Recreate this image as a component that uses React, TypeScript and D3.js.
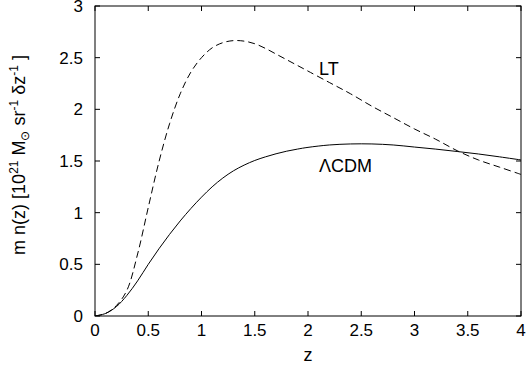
import React from "react";
import * as d3 from "d3";

const zGrid = [0, 0.1, 0.2, 0.3, 0.4, 0.5, 0.6, 0.7, 0.8, 0.9, 1.0, 1.1, 1.2, 1.3, 1.4, 1.5, 1.6, 1.7, 1.8, 1.9, 2.0, 2.2, 2.4, 2.6, 2.8, 3.0, 3.2, 3.4, 3.6, 3.8, 4.0];
const ltValues = [0, 0.025, 0.1, 0.25, 0.6, 1.05, 1.49, 1.86, 2.15, 2.36, 2.5, 2.595, 2.645, 2.665, 2.66, 2.635, 2.59, 2.535, 2.48, 2.425, 2.37, 2.26, 2.15, 2.03, 1.92, 1.81, 1.71, 1.6, 1.51, 1.44, 1.37];
const lcdmValues = [0, 0.025, 0.09, 0.2, 0.34, 0.5, 0.65, 0.79, 0.92, 1.04, 1.15, 1.25, 1.335, 1.405, 1.46, 1.505, 1.54, 1.57, 1.595, 1.615, 1.632, 1.655, 1.665, 1.665, 1.655, 1.635, 1.615, 1.592, 1.568, 1.54, 1.51];
const xTicks = [0, 0.5, 1, 1.5, 2, 2.5, 3, 3.5, 4];
const yTicks = [0, 0.5, 1, 1.5, 2, 2.5, 3];

const FONT = "'Liberation Sans', Arial, Helvetica, sans-serif";

export default function App() {
  const W = 530, H = 372;
  const L = 95, R = 521, T = 6, B = 316;
  const x = d3.scaleLinear().domain([0, 4]).range([L, R]);
  const y = d3.scaleLinear().domain([0, 3]).range([B, T]);
  const line = d3
    .line<[number, number]>()
    .x((d) => x(d[0]))
    .y((d) => y(d[1]))
    .curve(d3.curveCatmullRom.alpha(0.5));
  const ltPath = line(zGrid.map((z, i) => [z, ltValues[i]]) as [number, number][]) || "";
  const lcdmPath = line(zGrid.map((z, i) => [z, lcdmValues[i]]) as [number, number][]) || "";
  const tl = 5;
  return (
    <svg width={W} height={H} style={{ position: "absolute", left: 0, top: 0 }} fontFamily={FONT}>
      <rect x={0} y={0} width={W} height={H} fill="#fff" />
      <defs>
        <clipPath id="plotclip">
          <rect x={L} y={T} width={R - L} height={B - T} />
        </clipPath>
      </defs>
      {xTicks.map((t) => (
        <g key={"x" + t}>
          <line x1={x(t)} x2={x(t)} y1={B} y2={B - tl} stroke="#000" strokeWidth={1} />
          <line x1={x(t)} x2={x(t)} y1={T} y2={T + tl} stroke="#000" strokeWidth={1} />
          <text x={x(t)} y={336} fontSize={17} textAnchor="middle" fill="#000">
            {String(t)}
          </text>
        </g>
      ))}
      {yTicks.map((t) => (
        <g key={"y" + t}>
          <line x1={L} x2={L + tl} y1={y(t)} y2={y(t)} stroke="#000" strokeWidth={1} />
          <line x1={R} x2={R - tl} y1={y(t)} y2={y(t)} stroke="#000" strokeWidth={1} />
          <text x={83} y={y(t) + 6} fontSize={17} textAnchor="end" fill="#000">
            {String(t)}
          </text>
        </g>
      ))}
      <g clipPath="url(#plotclip)">
        <path d={ltPath} fill="none" stroke="#000" strokeWidth={1} strokeDasharray="7,4" />
        <path d={lcdmPath} fill="none" stroke="#000" strokeWidth={1} />
      </g>
      <rect x={L} y={T} width={R - L} height={B - T} fill="none" stroke="#000" strokeWidth={1} />
      <text x={319} y={75} fontSize={18} fill="#000">LT</text>
      <text x={319} y={172} fontSize={18} fill="#000">ΛCDM</text>
      <text x={x(2)} y={361} fontSize={18} textAnchor="middle" fill="#000">z</text>
      <text transform="translate(25,155) rotate(-90)" fontSize={18} textAnchor="middle" fill="#000">
        <tspan>m n(z) [10</tspan>
        <tspan dy={-7} fontSize={12}>21</tspan>
        <tspan dy={7}> M</tspan>
        <tspan dy={4} fontSize={12}>⊙</tspan>
        <tspan dy={-4}> sr</tspan>
        <tspan dy={-7} fontSize={12}>-1</tspan>
        <tspan dy={7}> δz</tspan>
        <tspan dy={-7} fontSize={12}>-1</tspan>
        <tspan dy={7}> ]</tspan>
      </text>
    </svg>
  );
}
